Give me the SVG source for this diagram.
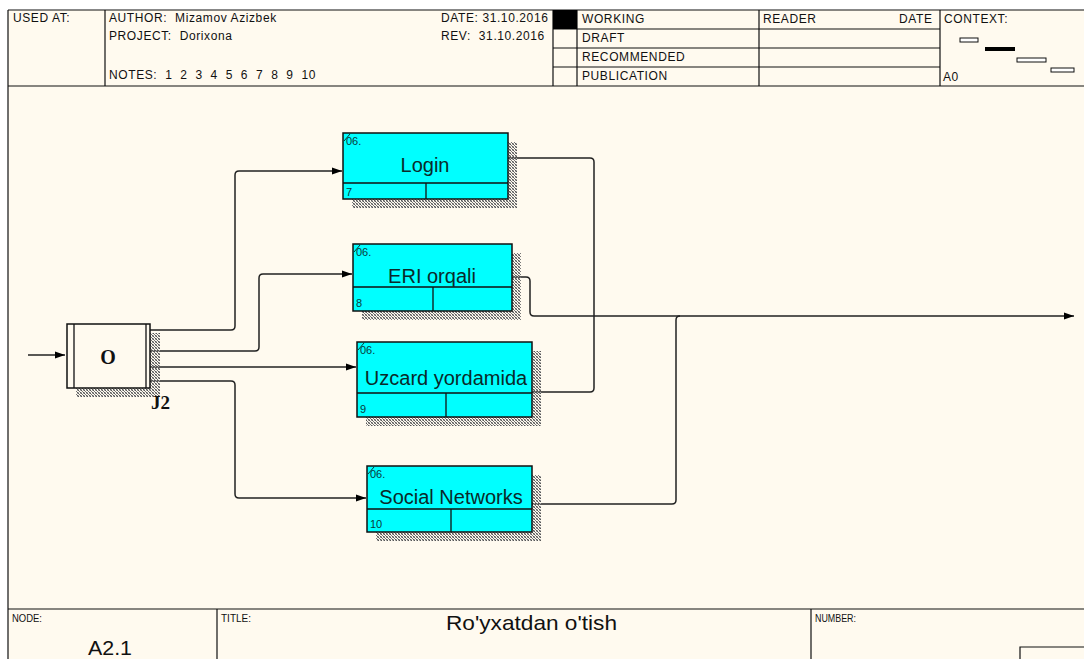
<svg xmlns="http://www.w3.org/2000/svg" width="1084" height="659" viewBox="0 0 1084 659">
<defs>
<pattern id="hatch" width="3" height="3" patternUnits="userSpaceOnUse">
<rect x="0" y="0" width="1" height="1" fill="#555"/>
<rect x="1" y="1" width="1" height="1" fill="#777"/>
<rect x="2" y="2" width="1" height="1" fill="#555"/>
<rect x="2" y="0" width="1" height="1" fill="#aaa"/>
<rect x="0" y="2" width="1" height="1" fill="#aaa"/>
</pattern>
<marker id="arr" markerWidth="11" markerHeight="8" refX="10" refY="4" orient="auto" markerUnits="userSpaceOnUse">
<path d="M0,0.5 L10,4 L0,7.5 z" fill="#000"/>
</marker>
</defs>
<style>
.hdr{font-family:"Liberation Sans",Arial,sans-serif;font-size:12px;letter-spacing:0.6px;fill:#111;white-space:pre}
.ln{stroke:#111;stroke-width:1.2;fill:none}
.box{fill:#00FFFF;stroke:#111;stroke-width:1.5}
.div{stroke:#111;stroke-width:1.3}
.sh{fill:url(#hatch)}
.lbl{font-family:"Liberation Sans",Arial,sans-serif;font-size:20px;fill:#0a2a2a;text-anchor:middle}
.sm{font-family:"Liberation Sans",Arial,sans-serif;font-size:11px;fill:#0a3a3a}
.tick{stroke:#0a3a3a;stroke-width:1}
.con{stroke:#222;stroke-width:1.5;fill:none}
.ftr{font-family:"Liberation Sans",Arial,sans-serif;font-size:11px;fill:#111}
</style>
<rect x="0" y="0" width="1084" height="659" fill="#fff"/>
<rect x="8" y="10" width="1080" height="655" fill="#FFFAEF"/>

<g id="header">
<path class="ln" d="M8,10 H1084 M8,10 V659 M8,86 H1084 M105,10 V86 M553,10 V86 M577,10 V86 M759,10 V86 M940,10 V86 M553,29 H940 M553,48 H940 M553,67 H940"/>
<rect x="553" y="10" width="24" height="19" fill="#000"/>
<text class="hdr" x="13" y="22">USED AT:</text>
<text class="hdr" x="109" y="22" xml:space="preserve">AUTHOR:  Mizamov Azizbek</text>
<text class="hdr" x="109" y="40" xml:space="preserve">PROJECT:  Dorixona</text>
<text class="hdr" x="109" y="79" xml:space="preserve">NOTES:  1  2  3  4  5  6  7  8  9  10</text>
<text class="hdr" x="441" y="22">DATE: 31.10.2016</text>
<text class="hdr" x="441" y="40" xml:space="preserve">REV:  31.10.2016</text>
<text class="hdr" x="582" y="23">WORKING</text>
<text class="hdr" x="582" y="42">DRAFT</text>
<text class="hdr" x="582" y="61">RECOMMENDED</text>
<text class="hdr" x="582" y="80">PUBLICATION</text>
<text class="hdr" x="763" y="23">READER</text>
<text class="hdr" x="899" y="23">DATE</text>
<text class="hdr" x="944" y="23">CONTEXT:</text>
<text class="hdr" x="943" y="81">A0</text>
<rect x="960" y="38" width="18" height="4" fill="#fff" stroke="#111" stroke-width="1"/>
<rect x="985" y="47" width="30" height="4" fill="#000"/>
<rect x="1017" y="58" width="29" height="4" fill="#fff" stroke="#111" stroke-width="1"/>
<rect x="1051" y="68" width="23" height="4" fill="#fff" stroke="#111" stroke-width="1"/>
</g>

<g id="footer">
<path class="ln" d="M8,609 H1084 M217,609 V659 M811,609 V659 M1020,659 V647 H1084"/>
<text class="ftr" x="12" y="622" textLength="30" lengthAdjust="spacingAndGlyphs">NODE:</text>
<text class="ftr" x="221" y="622" textLength="30" lengthAdjust="spacingAndGlyphs">TITLE:</text>
<text class="ftr" x="815" y="622" textLength="41" lengthAdjust="spacingAndGlyphs">NUMBER:</text>
<text x="88" y="655" font-family="'Liberation Sans',Arial,sans-serif" font-size="20" fill="#111" textLength="44" lengthAdjust="spacingAndGlyphs">A2.1</text>
<text x="446" y="630" font-family="'Liberation Sans',Arial,sans-serif" font-size="21" fill="#111" textLength="171" lengthAdjust="spacingAndGlyphs">Ro'yxatdan o'tish</text>
</g>

<g id="connectors">
<path class="con" d="M28,355 H65" marker-end="url(#arr)"/>
<path class="con" d="M150,330 H231 Q235,330 235,326 V175 Q235,171 239,171 H342" marker-end="url(#arr)"/>
<path class="con" d="M150,351 H255 Q259,351 259,347 V278 Q259,274 263,274 H352" marker-end="url(#arr)"/>
<path class="con" d="M150,367 H356" marker-end="url(#arr)"/>
<path class="con" d="M150,381 H231 Q235,381 235,385 V494 Q235,498 239,498 H366" marker-end="url(#arr)"/>
<path class="con" d="M508,158 H590 Q594,158 594,162 V388 Q594,392 590,392 H532"/>
<path class="con" d="M512,277 H526 Q530,277 530,281 V312 Q530,316 534,316 H1074" marker-end="url(#arr)"/>
<path class="con" d="M532,504 H672 Q676,504 676,500 V320 Q676,316 680,316"/>
</g>

<g id="J2">
<path class="sh" d="M150,333 H160 V397 H76 V388 H150 Z"/>
<rect x="67" y="324" width="83" height="64" fill="#FFFAEF" stroke="#111" stroke-width="1.5"/>
<path class="div" d="M74,324 V388 M146,324 V388"/>
<text x="108" y="364" font-family="'Liberation Serif','Times New Roman',serif" font-weight="bold" font-size="20" fill="#111" text-anchor="middle">O</text>
<text x="151" y="409" font-family="'Liberation Serif','Times New Roman',serif" font-weight="bold" font-size="19" fill="#111">J2</text>
</g>

<g id="node7">
<path class="sh" d="M508,142 H517 V208 H352 V199 H508 Z"/>
<rect class="box" x="343" y="133" width="165" height="66"/>
<path class="div" d="M343,183 H508 M426,183 V199"/>
<line class="tick" x1="344" y1="141" x2="350" y2="134"/>
<text class="sm" x="346" y="145">06.</text>
<text class="lbl" x="425" y="172">Login</text>
<text class="sm" x="346" y="196">7</text>
</g>

<g id="node8">
<path class="sh" d="M512,253 H521 V320 H362 V311 H512 Z"/>
<rect class="box" x="353" y="244" width="159" height="67"/>
<path class="div" d="M353,287 H512 M433,287 V311"/>
<line class="tick" x1="354" y1="252" x2="360" y2="245"/>
<text class="sm" x="356" y="256">06.</text>
<text class="lbl" x="432" y="283">ERI orqali</text>
<text class="sm" x="356" y="307">8</text>
</g>

<g id="node9">
<path class="sh" d="M532,351 H541 V426 H366 V417 H532 Z"/>
<rect class="box" x="357" y="342" width="175" height="75"/>
<path class="div" d="M357,393 H532 M446,393 V417"/>
<line class="tick" x1="358" y1="350" x2="364" y2="343"/>
<text class="sm" x="360" y="354">06.</text>
<text class="lbl" x="446" y="385">Uzcard yordamida</text>
<text class="sm" x="360" y="413">9</text>
</g>

<g id="node10">
<path class="sh" d="M532,475 H541 V541 H376 V532 H532 Z"/>
<rect class="box" x="367" y="466" width="165" height="66"/>
<path class="div" d="M367,509 H532 M451,509 V532"/>
<line class="tick" x1="368" y1="474" x2="374" y2="467"/>
<text class="sm" x="370" y="478">06.</text>
<text class="lbl" x="451" y="504">Social Networks</text>
<text class="sm" x="370" y="528">10</text>
</g>
</svg>
